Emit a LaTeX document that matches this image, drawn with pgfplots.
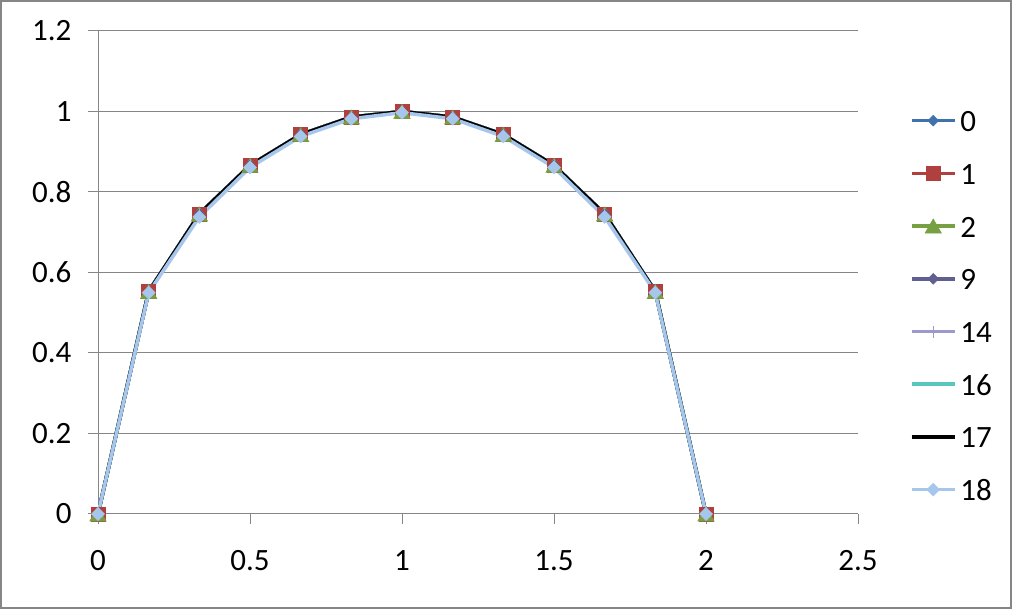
\documentclass[border=0pt]{standalone}
\usepackage{fontspec}
\setmainfont{Carlito}
\usepackage{pgfplots}
\pgfplotsset{compat=1.18}
\usepackage{pgfplotstable}

\definecolor{gridgray}{HTML}{868686}
\definecolor{c0}{HTML}{3F72AD}
\definecolor{c1}{HTML}{B0403D}
\definecolor{c2}{HTML}{77A043}
\definecolor{c9}{HTML}{5F6090}
\definecolor{c14}{HTML}{9A9ACB}
\definecolor{c16}{HTML}{58C8BE}
\definecolor{c17}{HTML}{000000}
\definecolor{c18}{HTML}{A7C6EC}

% series 0, 1, 2, 9, 14, 16, 17 share the same values
\pgfplotstableread{
x       y
0       0
0.1667  0.5528
0.3333  0.7454
0.5     0.8660
0.6667  0.9428
0.8333  0.9860
1       1
1.1667  0.9860
1.3333  0.9428
1.5     0.8660
1.6667  0.7454
1.8333  0.5528
2       0
}\base

\pgfplotstableread{
x       y
0       0
0.1667  0.550
0.3333  0.738
0.5     0.861
0.6667  0.938
0.8333  0.982
1       0.997
1.1667  0.982
1.3333  0.938
1.5     0.861
1.6667  0.738
1.8333  0.550
2       0
}\seriesB

\begin{document}
\begin{tikzpicture}[x=1pt,y=1pt]
\useasboundingbox (0,0) rectangle (1012,609);
\draw[gridgray, line width=2pt] (1,1) rectangle (1011,608);
\begin{axis}[
  at={(98pt,95pt)}, anchor=south west,
  scale only axis, width=760pt, height=483pt,
  xmin=0, xmax=2.5, ymin=0, ymax=1.2,
  xtick={0,0.5,1,1.5,2,2.5},
  ytick={0,0.2,0.4,0.6,0.8,1,1.2},
  axis x line*=bottom, axis y line*=left,
  axis line style={draw=gridgray, line width=1pt, -},
  ymajorgrids, grid style={gridgray, line width=1pt},
  major tick style={gridgray, line width=1pt},
  major tick length=10pt, tick align=outside,
  tick label style={font=\fontsize{31}{36}\selectfont},
  /pgf/number format/assume math mode=true,
  /pgf/number format/fixed,
  yticklabel style={xshift=-13pt},
  xticklabel style={yshift=-23pt},
  legend style={at={(1.0684,0.837)}, anchor=north west, draw=none, fill=none,
    inner sep=0pt, outer sep=0pt,
    font=\fontsize{31}{36}\selectfont,
    nodes={inner sep=0pt, text height=22pt, text depth=0pt},
    row sep=30.7pt, column sep=4pt},
  legend cell align=left,
  legend image code/.code={\draw[mark repeat=2, mark phase=2, #1] plot coordinates {(0pt,0pt) (21.5pt,0pt) (43pt,0pt)};},
  every axis plot/.append style={line width=3.5pt},
]
\addplot[c0, mark=square*, mark options={rotate=45, line width=0.5pt}, mark size=3.8pt] table {\base};
\addlegendentry{0}
\addplot[c1, mark=square*, mark options={line width=0.5pt}, mark size=7pt] table {\base};
\addlegendentry{1}
\addplot[c2, mark=triangle*, mark options={line width=0.5pt, yshift=-2.3pt}, mark size=9.5pt] table {\base};
\addlegendentry{2}
\addplot[c9, mark=square*, mark options={rotate=45, line width=0.5pt}, mark size=3.8pt] table {\base};
\addlegendentry{9}
\addplot[c14, mark=|, mark options={line width=1pt}, mark size=6pt] table {\base};
\addlegendentry{14}
\addplot[c16, no marks] table {\base};
\addlegendentry{16}
\addplot[c17, no marks] table {\base};
\addlegendentry{17}
\addplot[c18, mark=square*, mark options={rotate=45, line width=0.5pt}, mark size=4.6pt] table {\seriesB};
\addlegendentry{18}
\end{axis}
\end{tikzpicture}
\end{document}
